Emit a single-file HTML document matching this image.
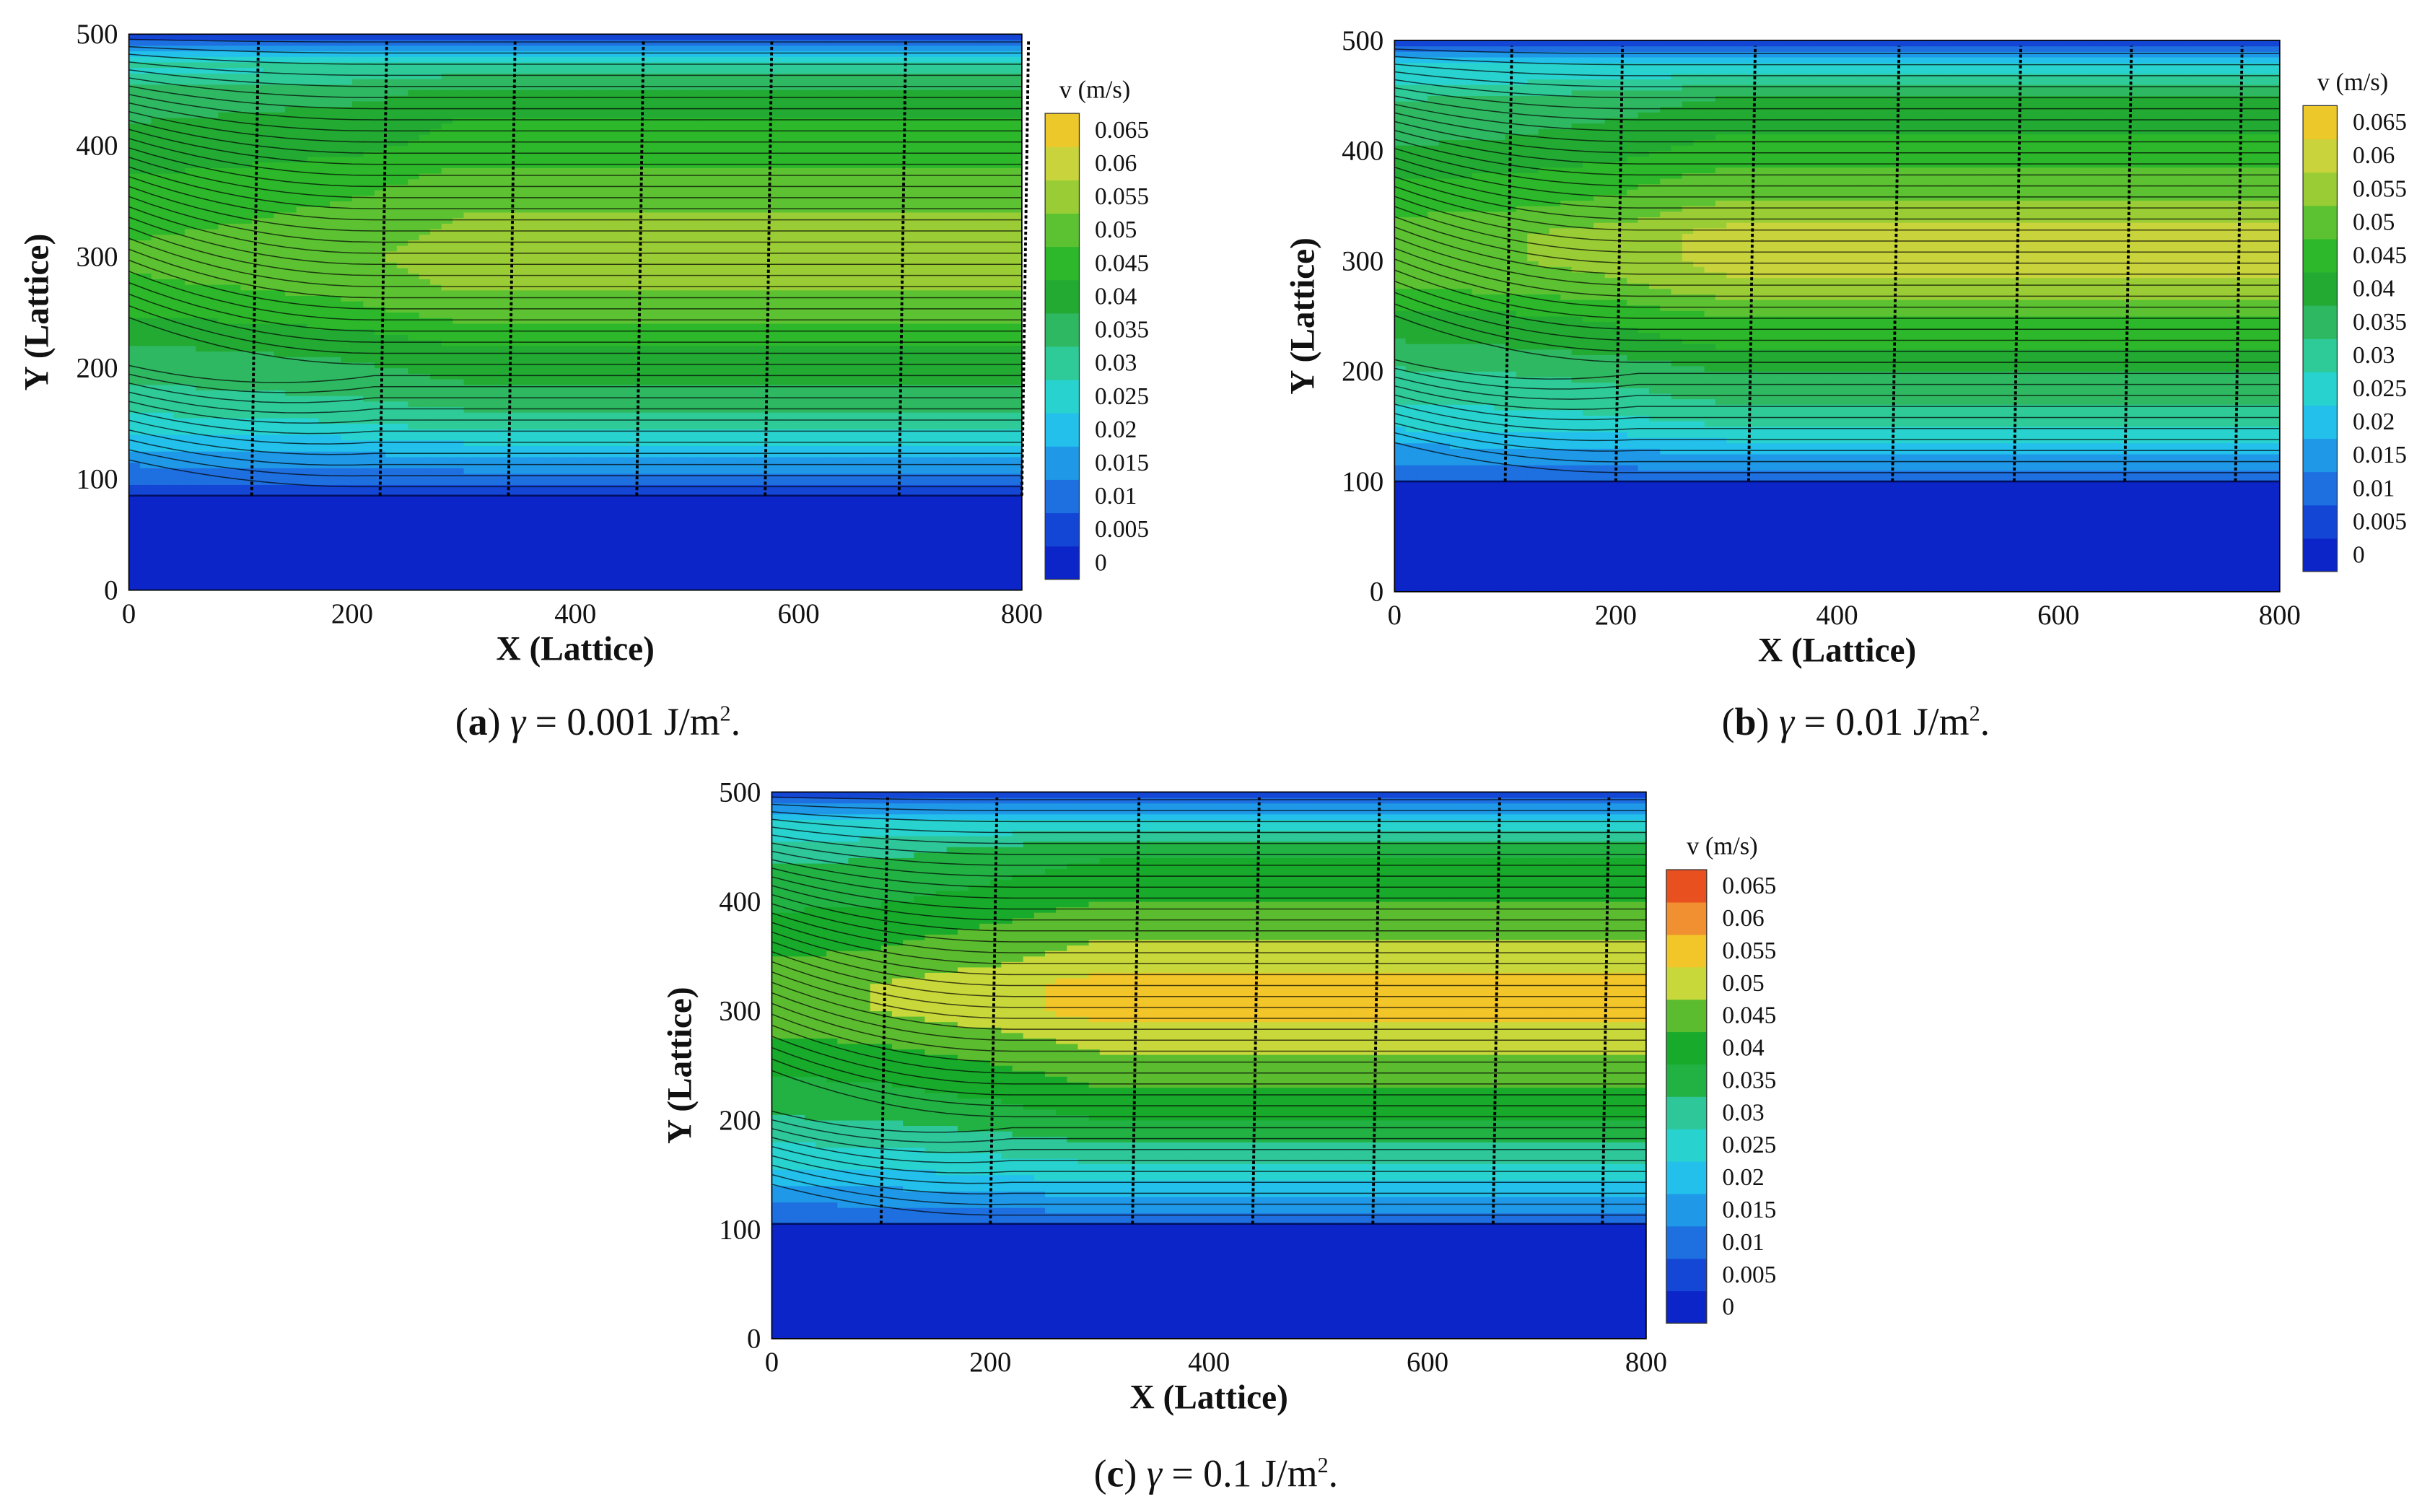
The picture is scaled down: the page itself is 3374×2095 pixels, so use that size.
<!DOCTYPE html>
<html><head><meta charset="utf-8">
<style>
html,body{margin:0;padding:0;background:#fff;}
svg{display:block;}
text{font-family:"Liberation Serif",serif;fill:#111;}
</style></head>
<body>
<svg id="fig" width="3374" height="2095" viewBox="0 0 1568 973.6" xmlns="http://www.w3.org/2000/svg"></svg>
<script>
// ---- data ----
const colorLevels = [0,0.005,0.01,0.015,0.02,0.025,0.03,0.035,0.04,0.045,0.05,0.055,0.06,0.065];
const levelLabels = ["0","0.005","0.01","0.015","0.02","0.025","0.03","0.035","0.04","0.045","0.05","0.055","0.06","0.065"];
const colorsAB = ["#0c25c8","#1446d6","#1e6fe0","#1f98e8","#22c0ea","#28d2cf","#2ecb98","#2fb862","#22aa33","#2cb82a","#5cc232","#9acd35","#c9d43c","#ecc82a"];
const colorsC = ["#0c25c8","#1447d6","#1e6fe0","#1f98e8","#22c0ea","#28d2cf","#2ec79a","#22b244","#18aa2a","#5cbc30","#c8d83a","#f2c528","#f09030","#e85020"];
const yLevels = [0,40,70,85,100,125,150,175,200,225,250,275,300,325,350,375,400,425,450,470,485,495,500];
const profileA = [0,0,0,0.004,0.012,0.022,0.032,0.038,0.042,0.046,0.052,0.056,0.058,0.056,0.054,0.051,0.047,0.045,0.041,0.032,0.020,0.010,0];
const profileB = [0,0,0,0,0.012,0.020,0.030,0.036,0.040,0.046,0.050,0.058,0.062,0.062,0.056,0.052,0.047,0.044,0.040,0.030,0.020,0.010,0];
const profileC = [0,0,0,0,0.010,0.018,0.027,0.034,0.040,0.044,0.048,0.052,0.057,0.057,0.052,0.049,0.045,0.042,0.038,0.028,0.018,0.010,0];
const xLevels = [0,100,200,300,800];
const rampA = [0.88,0.9,0.93,1,1];
const rampB = [0.86,0.88,0.92,1,1];
const rampC = [0.86,0.88,0.93,1,1];
const bedA = 85, bedB = 100, bedC = 105;
const vectorColsA = [110,225,340,455,570,690,800];
const vectorColsB = [100,200,320,450,560,660,760];
const vectorColsC = [100,200,330,440,550,660,760];
const xTicks = [0,200,400,600,800];
const yTicks = [0,100,200,300,400,500];

const NS="http://www.w3.org/2000/svg";
const svg=document.getElementById('fig');
function el(tag,attrs,parent){const e=document.createElementNS(NS,tag);for(const k in attrs)e.setAttribute(k,attrs[k]);(parent||svg).appendChild(e);return e;}
function interp(xs,ys,x){if(x<=xs[0])return ys[0];for(let i=1;i<xs.length;i++){if(x<=xs[i]){const t=(x-xs[i-1])/(xs[i]-xs[i-1]);return ys[i-1]+t*(ys[i]-ys[i-1]);}}return ys[ys.length-1];}
function colorFor(v,cols){let idx=0;for(let i=0;i<colorLevels.length;i++){if(v>=colorLevels[i]-1e-9)idx=i;}return cols[idx];}

function panel(cfg){
  const g=el('g',{});
  
  
  const sx=x=>cfg.x0+(x/800)*(cfg.x1-cfg.x0);
  const sy=y=>cfg.y1-(y/500)*(cfg.y1-cfg.y0);
  const cells=el('g',{},g);
  
  
  const nx=80, ny=100;
  for(let i=0;i<nx;i++){
    const xa=i*800/nx, xb=(i+1)*800/nx, xm=(xa+xb)/2;
    const r=interp(xLevels,cfg.ramp,xm);
    for(let j=0;j<ny;j++){
      const ya=j*500/ny, yb=(j+1)*500/ny, ym=(ya+yb)/2;
      let v=interp(yLevels,cfg.profile,ym)*(ym>100&&ym<470?r:1);
      if(ym<cfg.bed) v=0;
      const c=el('rect',{x:sx(xa),y:sy(yb),width:sx(xb)-sx(xa)+0.3,height:sy(ya)-sy(yb)+0.3,fill:colorFor(v,cfg.colors)},cells);
      
      
    }
  }
  // streamlines
  for(let y=cfg.bed+8;y<497;y+=10){
    const pts=[];
    for(let x=0;x<=800;x+=20){
      let yy=y;
      if(x<220){const f=(220-x)/220;yy=y+(500-y)*0.35*f*f*(y/500)+ (y<200?-(y-cfg.bed)*0.3*f:0);}
      pts.push(sx(x)+','+sy(Math.min(499,Math.max(cfg.bed-20,yy))));
    }
    const p=el('polyline',{points:pts.join(' '),fill:'none',stroke:'#000','stroke-width':0.7,'stroke-opacity':0.7},g);
    
    
  }
  const bp=el('line',{x1:sx(0),x2:sx(800),y1:sy(cfg.bed),y2:sy(cfg.bed),stroke:'#001060','stroke-width':1.2},g);
  
  
  cfg.vcols.forEach(x=>{
    const l=el('line',{x1:sx(x),x2:sx(x+6),y1:sy(cfg.bed),y2:sy(495),stroke:'#000','stroke-width':1.8,'stroke-dasharray':'2 1.5'},g);
    
    
  });
  const fr=el('rect',{x:cfg.x0,y:cfg.y0,width:cfg.x1-cfg.x0,height:cfg.y1-cfg.y0,fill:'none',stroke:'#000','stroke-width':0.8},g);
  
  
  xTicks.forEach(t=>{
    const tx=el('text',{x:sx(t),y:cfg.y1+21,'font-size':18,'text-anchor':'middle'},g);tx.textContent=t;
    
    
  });
  yTicks.forEach(t=>{
    const tx=el('text',{x:cfg.x0-7,y:sy(t)+6,'font-size':18,'text-anchor':'end'},g);tx.textContent=t;
    
    
  });
  const xt=el('text',{x:(cfg.x0+cfg.x1)/2,y:cfg.y1+45,'font-size':22,'font-weight':'bold','text-anchor':'middle'},g);xt.textContent='X (Lattice)';
  
  
  const yc=(cfg.y0+cfg.y1)/2;
  const yt=el('text',{x:cfg.x0-52,y:yc,'font-size':22,'font-weight':'bold','text-anchor':'middle',transform:`rotate(-90 ${cfg.x0-52} ${yc})`},g);yt.textContent='Y (Lattice)';
  
  
  const cb=el('g',{},g);
  
  
  const n=colorLevels.length, h=(cfg.cb.y1-cfg.cb.y0)/n;
  for(let i=0;i<n;i++){
    const r=el('rect',{x:cfg.cb.x0,y:cfg.cb.y1-(i+1)*h,width:cfg.cb.x1-cfg.cb.x0,height:h+0.3,fill:cfg.colors[i]},cb);
    
    
    const t=el('text',{x:cfg.cb.x1+10,y:cfg.cb.y1-(i+0.5)*h+5,'font-size':15.5},cb);t.textContent=levelLabels[i];
    
    
  }
  el('rect',{x:cfg.cb.x0,y:cfg.cb.y0,width:cfg.cb.x1-cfg.cb.x0,height:cfg.cb.y1-cfg.cb.y0,fill:'none',stroke:'#333','stroke-width':0.6},cb);
  const ct=el('text',{x:cfg.cb.x1+10,y:cfg.cb.y0-10,'font-size':16,'text-anchor':'middle'},cb);ct.textContent='v (m/s)';
  
  
  const cap=el('text',{x:cfg.capX,y:cfg.capY,'font-size':25,'text-anchor':'middle'},g);
  cap.innerHTML='(<tspan font-weight="bold">'+cfg.letter+'</tspan>) <tspan font-style="italic">γ</tspan> = '+cfg.gamma+' J/m<tspan font-size="14" dy="-9">2</tspan><tspan dy="9">.</tspan>';
  
  
}
panel({name:'panel-a',x0:83,x1:658,y0:22,y1:380,profile:profileA,ramp:rampA,bed:bedA,colors:colorsAB,vcols:vectorColsA,cb:{x0:673,x1:695,y0:73,y1:373},capX:385,capY:473,letter:'a',gamma:'0.001'});
panel({name:'panel-b',x0:898,x1:1468,y0:26,y1:381,profile:profileB,ramp:rampB,bed:bedB,colors:colorsAB,vcols:vectorColsB,cb:{x0:1483,x1:1505,y0:68,y1:368},capX:1195,capY:473,letter:'b',gamma:'0.01'});
panel({name:'panel-c',x0:497,x1:1060,y0:510,y1:862,profile:profileC,ramp:rampC,bed:bedC,colors:colorsC,vcols:vectorColsC,cb:{x0:1073,x1:1099,y0:560,y1:852},capX:783,capY:957,letter:'c',gamma:'0.1'});
</script>
</body></html>
